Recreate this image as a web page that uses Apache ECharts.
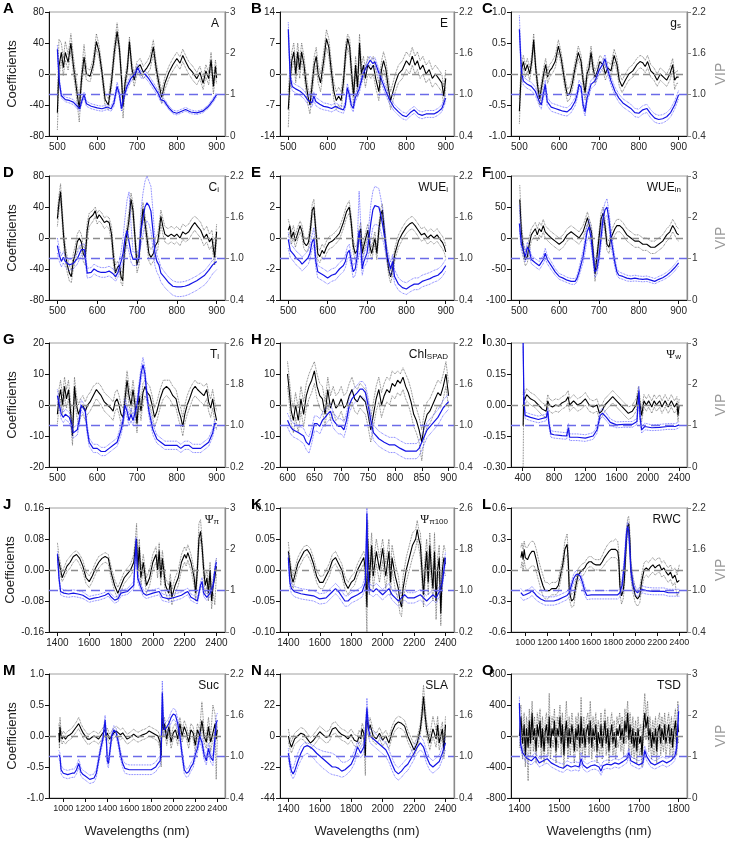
<!DOCTYPE html>
<html><head><meta charset="utf-8">
<script src="https://cdn.jsdelivr.net/npm/echarts@6/dist/echarts.min.js"></script>
<style>html,body{margin:0;padding:0;background:#fff}#c{width:729px;height:841px}</style>
</head><body><div id="c"></div>
<script>
// ---------- tick labels ----------
const xt500=[500,600,700,800,900];
const xtH=[600,650,700,750,800,850,900];
const xtI=[400,800,1200,1600,2000,2400];
const xt1400=[1400,1600,1800,2000,2200,2400];
const xt1000=[1000,1200,1400,1600,1800,2000,2200,2400];
const xtO=[1400,1500,1600,1700,1800];
const yt80=[-80,-40,0,40,80], yt14=[-14,-7,0,7,14], yt1=[-1,-0.5,0,0.5,1], yt4=[-4,-2,0,2,4];
const yt100=[-100,-50,0,50,100], yt20=[-20,-10,0,10,20], yt03=[-0.3,-0.15,0,0.15,0.3];
const yt016=[-0.16,-0.08,0,0.08,0.16], yt01=[-0.1,-0.05,0,0.05,0.1], yt06=[-0.6,-0.3,0,0.3,0.6];
const yt44=[-44,-22,0,22,44], yt800=[-800,-400,0,400,800];
const v03=[0,1,2,3], v22=[0.4,1.0,1.6,2.2], v26=[0.2,1.0,1.8,2.6];

// ---------- data: [wavelength, value, lower bound, upper bound] ----------
const A_coef=[[500,-50,-72,-30],[504,10,-5,45],[510,28,18,40],[515,8,-2,20],[520,28,18,42],[527,15,5,25],[534,40,30,52],[540,12,2,24],[547,-15,-25,-5],[555,-45,-62,-32],[561,-5,-15,5],[567,22,12,38],[573,0,-8,8],[582,-3,-10,5],[590,12,5,20],[598,42,32,52],[605,28,20,36],[612,2,-6,10],[620,-33,-42,-25],[628,-40,-46,-32],[636,-10,-18,0],[643,28,18,38],[650,55,46,66],[656,32,24,40],[661,-5,-12,5],[665,-42,-57,-32],[670,-12,-20,-4],[676,8,0,16],[681,42,34,48],[687,8,0,16],[693,-8,-16,0],[700,8,0,16],[708,12,4,20],[716,2,-6,10],[725,8,0,16],[733,15,6,24],[741,35,26,44],[748,8,0,16],[756,-15,-23,-7],[762,-30,-38,-22],[770,-12,-20,-4],[780,2,-6,10],[790,12,4,20],[800,20,12,28],[808,14,6,22],[815,24,16,32],[822,16,8,24],[830,8,0,16],[840,2,-8,10],[850,-6,-14,2],[858,2,-6,10],[866,-12,-20,-4],[873,4,-4,12],[880,-6,-14,2],[886,18,8,28],[892,-16,-26,-8],[897,10,0,18],[900,-5,-12,5]];
const A_vip=[[500,2.1,2.0,2.2],[505,1.3,1.22,1.4],[510,0.98,0.92,1.04],[520,0.88,0.83,0.94],[530,0.86,0.8,0.92],[540,0.82,0.76,0.88],[550,0.72,0.66,0.78],[556,0.66,0.6,0.72],[562,0.86,0.8,0.92],[567,1.0,0.92,1.06],[573,0.78,0.72,0.84],[585,0.72,0.66,0.78],[600,0.68,0.62,0.74],[612,0.66,0.6,0.72],[625,0.7,0.64,0.76],[635,0.66,0.6,0.72],[642,0.8,0.72,0.88],[650,1.2,1.1,1.3],[656,1.0,0.92,1.08],[661,0.66,0.6,0.72],[667,0.95,0.88,1.02],[675,1.2,1.12,1.28],[685,1.4,1.32,1.48],[695,1.5,1.42,1.58],[702,1.65,1.57,1.73],[710,1.48,1.4,1.56],[720,1.5,1.42,1.58],[730,1.38,1.3,1.46],[742,1.2,1.12,1.28],[752,1.05,0.98,1.12],[760,0.88,0.82,0.94],[768,0.85,0.8,0.9],[780,0.68,0.64,0.73],[790,0.58,0.54,0.63],[800,0.55,0.51,0.6],[812,0.6,0.56,0.65],[822,0.64,0.6,0.69],[835,0.58,0.54,0.63],[850,0.56,0.52,0.6],[865,0.6,0.56,0.64],[878,0.7,0.66,0.74],[890,0.85,0.8,0.9],[900,1.0,0.95,1.05]];
const B_coef=[[500,-8,-12,-4],[504,-2,-4,1],[509,3,1,5],[514,5,3,7],[519,0,-2,2],[524,5,3,7],[529,1,-1,3],[534,5,3,7],[540,2,0,4],[545,-2,-4,0],[550,-5,-7,-3],[555,-7,-9,-5],[560,-3,-5,-1],[566,2,0,4],[571,4,2,6],[576,0,-2,2],[582,-2,-4,0],[590,3,1,5],[597,8,6,10],[603,6,4,8],[609,1,-1,3],[616,-4,-6,-2],[622,-6,-8,-4],[628,-5,-7,-3],[634,-6,-8,-4],[640,-2,-4,0],[646,5,3,7],[651,8,6,9],[656,6,4,8],[661,0,-2,2],[666,-5,-7,-3],[671,2,0,4],[676,-3,-5,-1],[681,7,5,9],[686,0,-2,2],[691,2,0,4],[696,-1,-3,1],[702,2,0,4],[710,1,-1,3],[716,2,0,4],[722,-1,-3,1],[730,-4,-6,-2],[737,1,-1,3],[742,3,1,5],[748,1,-1,3],[754,-3,-5,-1],[760,-6,-8,-4],[766,-4,-6,-2],[772,-2,-4,0],[780,0,-2,2],[790,1,-1,3],[800,3,1,5],[808,2,0,4],[815,4,2,6],[822,2,0,4],[828,3,1,5],[835,1,-1,3],[842,2,0,4],[850,0,-2,2],[858,1,-1,3],[866,-1,-3,1],[874,0,-2,2],[882,-1,-3,1],[890,-2,-4,0],[895,-5,-7,-3],[900,-1,-3,1]];
const B_vip=[[500,1.95,1.85,2.05],[505,1.25,1.18,1.32],[510,1.12,1.06,1.18],[520,1.08,1.02,1.14],[530,1.05,0.99,1.11],[540,1.0,0.94,1.06],[550,0.92,0.86,0.98],[560,0.88,0.82,0.94],[565,0.98,0.92,1.04],[570,0.9,0.84,0.96],[580,0.86,0.8,0.92],[590,0.83,0.78,0.88],[600,0.82,0.77,0.87],[610,0.8,0.75,0.85],[620,0.83,0.78,0.88],[630,0.8,0.75,0.85],[640,0.78,0.73,0.83],[645,0.85,0.8,0.9],[650,1.1,1.04,1.16],[655,1.0,0.94,1.06],[660,0.85,0.8,0.9],[665,0.8,0.75,0.85],[670,0.95,0.89,1.01],[680,1.08,1.02,1.14],[690,1.3,1.24,1.36],[700,1.42,1.36,1.48],[708,1.5,1.44,1.56],[715,1.45,1.39,1.51],[720,1.48,1.42,1.54],[728,1.35,1.29,1.41],[738,1.2,1.14,1.26],[748,1.05,0.99,1.11],[758,0.92,0.86,0.98],[768,0.82,0.77,0.87],[780,0.75,0.7,0.8],[790,0.7,0.65,0.75],[800,0.68,0.63,0.73],[810,0.74,0.69,0.79],[820,0.78,0.73,0.83],[830,0.72,0.67,0.77],[840,0.7,0.65,0.75],[850,0.72,0.67,0.77],[860,0.72,0.67,0.77],[870,0.72,0.67,0.77],[880,0.75,0.7,0.8],[890,0.8,0.75,0.85],[900,0.95,0.9,1.0]];
const C_coef=[[500,-0.6,-0.8,-0.4],[505,0.05,-0.05,0.15],[510,0.2,0.1,0.3],[515,0.05,-0.05,0.15],[520,0.15,0.05,0.25],[526,0.0,-0.1,0.1],[531,0.2,0.1,0.3],[536,0.55,0.45,0.65],[541,0.1,0.0,0.2],[546,-0.2,-0.3,-0.1],[551,-0.4,-0.5,-0.3],[556,-0.2,-0.3,-0.1],[561,0.0,-0.1,0.1],[566,0.15,0.05,0.25],[571,-0.05,-0.15,0.05],[576,0.05,-0.05,0.15],[582,0.1,0.0,0.2],[590,0.2,0.1,0.3],[598,0.45,0.35,0.55],[605,0.25,0.15,0.35],[611,0.0,-0.1,0.1],[616,-0.2,-0.3,-0.1],[621,-0.35,-0.45,-0.25],[627,-0.3,-0.4,-0.2],[633,-0.15,-0.25,-0.05],[640,0.1,0.0,0.2],[648,0.35,0.25,0.45],[655,0.2,0.1,0.3],[660,-0.1,-0.2,0.0],[665,-0.3,-0.42,-0.2],[670,0.0,-0.1,0.1],[675,0.1,0.0,0.2],[680,0.35,0.25,0.45],[685,0.1,0.0,0.2],[690,-0.05,-0.15,0.05],[696,0.05,-0.05,0.15],[702,0.2,0.1,0.3],[710,0.15,0.05,0.25],[716,0.0,-0.1,0.1],[722,0.1,0.0,0.2],[730,0.05,-0.05,0.15],[738,0.3,0.2,0.4],[745,0.15,0.05,0.25],[751,-0.1,-0.2,0.0],[758,-0.2,-0.3,-0.1],[766,-0.1,-0.2,0.0],[775,0.0,-0.1,0.1],[785,0.05,-0.05,0.15],[795,0.15,0.05,0.25],[803,0.2,0.1,0.3],[810,0.18,0.08,0.28],[816,0.12,0.02,0.22],[822,0.2,0.1,0.3],[830,0.05,-0.05,0.15],[838,0.0,-0.1,0.1],[846,-0.1,-0.2,0.0],[854,0.0,-0.1,0.1],[862,-0.05,-0.15,0.05],[870,-0.1,-0.2,0.0],[878,0.0,-0.1,0.1],[885,0.15,0.05,0.25],[890,-0.1,-0.25,0.0],[895,-0.05,-0.15,0.05],[900,-0.05,-0.15,0.05]];
const C_vip=[[500,1.95,1.85,2.15],[505,1.35,1.28,1.42],[510,1.2,1.14,1.26],[520,1.15,1.09,1.21],[530,1.12,1.06,1.18],[540,1.05,0.99,1.11],[550,0.9,0.84,0.96],[555,0.85,0.79,0.91],[560,1.0,0.94,1.06],[565,1.15,1.09,1.21],[570,0.9,0.84,0.96],[580,0.82,0.76,0.88],[590,0.8,0.74,0.86],[600,0.78,0.72,0.84],[610,0.76,0.7,0.82],[620,0.75,0.69,0.81],[630,0.8,0.74,0.86],[640,0.9,0.84,0.96],[645,1.0,0.94,1.06],[650,1.15,1.09,1.21],[655,1.1,1.04,1.16],[660,0.85,0.79,0.91],[665,0.75,0.69,0.81],[670,0.95,0.89,1.01],[680,1.15,1.09,1.21],[690,1.2,1.14,1.26],[700,1.35,1.29,1.41],[710,1.45,1.39,1.51],[715,1.52,1.46,1.58],[720,1.4,1.34,1.46],[730,1.2,1.14,1.26],[740,1.05,0.99,1.11],[750,0.95,0.89,1.01],[760,0.88,0.82,0.94],[770,0.84,0.78,0.9],[780,0.8,0.74,0.86],[790,0.74,0.68,0.8],[800,0.73,0.67,0.79],[810,0.78,0.72,0.84],[820,0.8,0.74,0.86],[830,0.72,0.66,0.78],[840,0.66,0.6,0.72],[850,0.64,0.58,0.7],[860,0.65,0.59,0.71],[870,0.68,0.62,0.74],[880,0.74,0.68,0.8],[890,0.85,0.79,0.91],[900,1.0,0.94,1.06]];
const D_coef=[[500,25,15,35],[504,45,35,55],[508,60,50,70],[512,30,20,40],[516,0,-10,10],[520,-20,-30,-10],[525,-35,-45,-25],[530,-45,-55,-35],[535,-50,-58,-42],[540,-30,-40,-20],[545,-20,-30,-10],[550,-5,-15,5],[555,0,-10,10],[560,-5,-15,5],[565,-20,-30,-10],[570,-25,-35,-15],[575,10,0,20],[580,25,15,32],[590,30,22,36],[595,35,28,40],[600,25,18,32],[605,30,22,36],[612,25,18,32],[618,20,12,26],[624,22,15,28],[630,20,12,26],[636,5,-5,15],[641,-25,-35,-15],[646,-45,-52,-35],[651,-38,-46,-30],[656,-35,-42,-28],[660,-50,-58,-42],[664,-55,-62,-45],[668,-20,-30,-10],[673,0,-10,10],[679,20,10,30],[685,50,42,58],[690,35,25,45],[695,0,-10,10],[700,-35,-45,-25],[705,-25,-35,-15],[710,10,0,20],[715,38,28,46],[720,20,10,30],[725,0,-10,10],[730,-20,-30,-10],[735,-25,-35,-15],[741,-20,-30,-10],[746,-10,-20,0],[752,-5,-15,5],[756,10,0,20],[760,28,18,36],[765,15,5,25],[770,5,-5,15],[778,2,-8,12],[786,5,-5,15],[794,2,-8,12],[800,5,-5,15],[808,0,-10,10],[815,8,-2,18],[822,5,-5,15],[830,8,-2,18],[838,15,5,25],[845,20,10,28],[852,15,5,25],[860,10,0,20],[868,0,-10,10],[875,5,-5,15],[882,-5,-15,5],[888,0,-10,10],[895,-25,-35,-15],[900,8,-2,18]];
const D_vip=[[500,1.19,1.08,1.3],[505,1.05,0.96,1.14],[510,0.96,0.88,1.04],[515,1.02,0.94,1.1],[520,0.96,0.88,1.04],[530,0.91,0.83,0.99],[540,0.93,0.85,1.01],[550,1.0,0.92,1.08],[560,1.13,1.05,1.21],[568,1.13,1.05,1.21],[575,0.79,0.72,0.86],[585,0.8,0.73,0.87],[592,0.85,0.78,0.92],[600,0.82,0.75,0.89],[610,0.8,0.73,0.87],[620,0.8,0.73,0.87],[630,0.82,0.75,0.89],[640,0.78,0.71,0.85],[646,0.74,0.67,0.81],[652,0.8,0.73,0.87],[660,0.96,0.86,1.1],[665,1.08,0.96,1.3],[670,1.3,1.12,1.6],[675,1.41,1.2,1.85],[680,1.42,1.1,1.97],[685,1.08,0.95,1.5],[690,0.99,0.9,1.1],[700,0.99,0.9,1.08],[705,1.02,0.92,1.15],[710,1.41,1.2,1.7],[715,1.58,1.35,1.95],[720,1.75,1.5,2.12],[725,1.81,1.55,2.2],[730,1.77,1.5,2.2],[735,1.69,1.4,2.05],[740,1.41,1.15,1.7],[745,1.08,0.9,1.3],[750,0.96,0.8,1.05],[755,0.91,0.75,0.98],[760,0.79,0.66,0.88],[770,0.72,0.58,0.8],[780,0.65,0.52,0.73],[790,0.6,0.47,0.68],[800,0.59,0.45,0.66],[810,0.59,0.45,0.66],[820,0.6,0.46,0.67],[830,0.62,0.48,0.69],[840,0.65,0.51,0.72],[850,0.68,0.54,0.75],[860,0.72,0.58,0.79],[870,0.76,0.62,0.83],[880,0.83,0.69,0.9],[890,0.91,0.78,0.98],[900,0.96,0.84,1.03]];
const E_coef=[[500,0.5,0.1,1.2],[504,0.8,0.4,1.3],[508,0.0,-0.4,0.4],[513,0.4,0.0,0.8],[518,-0.2,-0.6,0.2],[524,0.3,-0.1,0.7],[530,0.8,0.4,1.1],[535,0.4,0.0,0.8],[540,-0.3,-0.7,0.1],[546,-0.5,-0.9,-0.1],[551,-0.3,-0.7,0.1],[556,0.5,0.1,0.9],[561,1.8,1.4,2.2],[565,2.0,1.6,2.5],[570,0.5,0.1,0.9],[575,-1.0,-1.4,-0.6],[580,-1.2,-1.6,-0.8],[586,-0.8,-1.2,-0.4],[591,-1.0,-1.4,-0.6],[597,-0.6,-1.0,-0.2],[604,-0.3,-0.7,0.1],[612,-0.2,-0.6,0.2],[620,0.0,-0.4,0.4],[630,0.3,-0.1,0.7],[640,1.0,0.6,1.4],[648,1.7,1.3,2.1],[655,2.0,1.6,2.4],[660,1.0,0.6,1.4],[665,-0.5,-0.9,-0.1],[670,-1.0,-1.4,-0.6],[675,-0.8,-1.2,-0.4],[680,0.2,-0.2,0.6],[684,0.6,0.2,1.0],[688,-1.0,-1.4,-0.6],[692,-0.5,-0.9,-0.1],[697,0.0,-0.4,0.4],[702,0.5,0.1,0.9],[707,-0.5,-0.9,-0.1],[712,-1.0,-1.4,-0.6],[716,-0.5,-0.9,-0.1],[720,0.0,-0.4,0.4],[725,-1.0,-1.4,-0.6],[730,0.5,0.1,0.9],[735,1.5,1.1,1.9],[739,1.8,1.4,2.2],[744,0.5,0.1,0.9],[750,-1.0,-1.4,-0.6],[755,-2.0,-2.4,-1.6],[760,-2.5,-2.9,-2.1],[765,-2.0,-2.4,-1.6],[771,-1.0,-1.4,-0.6],[780,-0.2,-0.6,0.2],[790,0.3,-0.1,0.7],[800,0.7,0.3,1.1],[808,0.9,0.5,1.3],[815,1.0,0.6,1.4],[822,0.8,0.4,1.2],[830,0.5,0.1,0.9],[838,0.2,-0.2,0.6],[846,0.3,-0.1,0.7],[854,0.0,-0.4,0.4],[862,0.2,-0.2,0.6],[870,0.0,-0.4,0.4],[878,0.2,-0.2,0.6],[886,-0.1,-0.5,0.3],[892,-0.3,-0.7,0.1],[897,-0.6,-1.0,-0.2],[900,-0.9,-1.3,-0.5]];
const E_vip=[[500,1.28,1.15,1.38],[505,1.12,1.02,1.22],[510,1.1,1.0,1.2],[515,1.05,0.95,1.15],[520,1.01,0.91,1.11],[530,0.96,0.86,1.06],[535,0.92,0.82,1.02],[540,0.94,0.84,1.04],[550,1.01,0.91,1.11],[555,1.08,0.98,1.18],[560,1.23,1.13,1.33],[565,1.3,1.2,1.45],[570,0.96,0.86,1.06],[575,0.81,0.72,0.9],[580,0.81,0.72,0.9],[590,0.76,0.67,0.85],[600,0.72,0.63,0.81],[605,0.74,0.65,0.83],[610,0.76,0.67,0.85],[620,0.78,0.69,0.87],[630,0.85,0.76,0.94],[640,0.9,0.81,0.99],[645,0.96,0.87,1.05],[650,1.08,0.99,1.17],[655,1.12,1.03,1.21],[660,0.96,0.87,1.05],[665,0.81,0.72,0.9],[670,0.85,0.76,0.94],[675,1.03,0.9,1.2],[680,1.41,1.1,1.98],[684,1.19,1.0,1.5],[688,0.85,0.76,0.94],[692,0.96,0.87,1.05],[700,1.08,0.95,1.2],[705,1.3,1.1,1.5],[710,1.53,1.3,1.8],[715,1.71,1.45,1.98],[720,1.77,1.5,2.05],[725,1.77,1.5,2.07],[730,1.75,1.48,2.02],[735,1.64,1.4,1.88],[740,1.48,1.28,1.7],[745,1.3,1.15,1.45],[750,1.08,0.98,1.18],[755,0.96,0.86,1.06],[760,0.85,0.75,0.95],[765,0.96,0.86,1.06],[770,0.74,0.64,0.84],[780,0.63,0.54,0.72],[790,0.58,0.5,0.67],[800,0.56,0.48,0.65],[810,0.6,0.52,0.69],[820,0.63,0.55,0.72],[830,0.63,0.55,0.72],[840,0.67,0.59,0.76],[850,0.69,0.61,0.78],[860,0.71,0.63,0.8],[870,0.74,0.66,0.83],[880,0.76,0.68,0.85],[890,0.81,0.73,0.9],[900,0.9,0.82,0.99]];
const F_coef=[[501,62,45,85],[505,10,-5,25],[510,-20,-32,-8],[515,-35,-45,-22],[520,-30,-40,-18],[525,-10,-22,2],[530,5,-5,15],[535,10,0,20],[540,15,5,25],[545,5,-5,15],[550,15,5,25],[555,10,0,20],[560,20,10,30],[565,10,0,20],[572,5,-5,15],[580,0,-10,10],[590,-5,-15,5],[600,-10,-20,0],[610,-5,-15,5],[620,5,-5,15],[630,10,0,20],[640,5,-5,15],[650,0,-10,10],[660,10,0,20],[665,20,10,30],[671,33,22,42],[676,20,10,30],[681,10,0,20],[685,-20,-30,-10],[690,-58,-70,-45],[695,-30,-40,-20],[700,0,-10,10],[705,30,20,40],[710,40,30,50],[715,20,10,30],[720,-10,-20,0],[725,-15,-25,-5],[730,0,-10,10],[740,15,5,25],[745,20,10,30],[752,20,10,30],[760,15,5,25],[770,5,-5,15],[780,0,-10,10],[790,-5,-15,5],[800,-5,-15,5],[810,-10,-20,0],[820,-10,-20,0],[830,-15,-25,-5],[840,-15,-25,-5],[850,-10,-20,0],[860,-5,-15,5],[870,5,-5,15],[878,10,0,20],[885,20,10,30],[890,15,5,25],[895,8,-2,18],[900,5,-5,15]];
const F_vip=[[500,1.85,1.7,2.3],[505,1.35,1.2,1.5],[510,1.2,1.05,1.35],[515,1.05,0.92,1.18],[520,1.28,1.15,1.4],[525,1.2,1.08,1.32],[530,0.98,0.88,1.08],[540,0.9,0.8,1.0],[550,0.83,0.73,0.93],[560,0.98,0.88,1.08],[565,1.13,1.0,1.25],[570,0.98,0.88,1.08],[580,0.83,0.73,0.93],[590,0.68,0.6,0.76],[600,0.57,0.5,0.64],[610,0.53,0.46,0.6],[620,0.48,0.42,0.55],[630,0.45,0.38,0.52],[640,0.45,0.38,0.52],[645,0.53,0.45,0.6],[650,0.68,0.58,0.78],[660,1.05,0.9,1.2],[665,1.35,1.15,1.5],[670,1.65,1.45,1.8],[675,1.77,1.55,1.95],[680,1.5,1.3,1.7],[685,1.05,0.9,1.2],[690,0.68,0.55,0.8],[695,0.75,0.62,0.88],[700,1.05,0.9,1.2],[705,1.5,1.3,1.7],[710,1.95,1.75,2.15],[715,2.18,2.0,2.35],[720,2.25,2.05,2.45],[725,1.95,1.75,2.15],[730,1.5,1.3,1.7],[735,1.2,1.05,1.35],[740,0.9,0.78,1.02],[745,0.68,0.6,0.76],[750,0.6,0.53,0.68],[760,0.57,0.5,0.64],[770,0.53,0.46,0.6],[780,0.51,0.45,0.58],[790,0.53,0.46,0.6],[800,0.51,0.45,0.58],[810,0.5,0.44,0.57],[820,0.51,0.45,0.58],[830,0.48,0.42,0.55],[840,0.45,0.39,0.52],[850,0.5,0.44,0.57],[860,0.54,0.48,0.61],[870,0.6,0.53,0.67],[880,0.68,0.6,0.75],[890,0.78,0.7,0.86],[900,0.9,0.82,0.98]];
const G_coef=[[500,-3,-6,0],[504,2,-1,5],[508,5,2,8],[513,0,-3,3],[518,6,3,9],[523,2,-1,5],[528,5,2,8],[533,-2,-5,1],[538,-10,-13,-7],[543,6,3,9],[548,0,-3,3],[553,-3,-6,0],[558,-1,-4,2],[564,0,-3,3],[570,-2,-5,1],[576,0,-3,3],[582,1,-2,4],[590,3,0,6],[598,5,2,7],[604,4,1,7],[610,3,0,6],[618,1,-2,4],[626,0,-3,3],[634,-1,-4,2],[640,-2,-5,1],[645,1,-2,4],[650,2,-1,5],[655,0,-3,3],[660,-3,-6,0],[665,-4,-7,-1],[670,2,-1,5],[675,8,5,11],[680,3,0,6],[685,0,-3,3],[690,5,2,8],[695,0,-3,3],[700,-6,-9,-3],[705,3,0,6],[710,-2,-5,1],[715,4,1,7],[720,6,3,8],[726,4,1,7],[732,3,0,6],[738,0,-3,3],[744,-4,-7,-1],[750,-2,-5,1],[758,2,-1,5],[766,5,2,8],[774,6,3,8],[782,5,2,8],[790,3,0,6],[798,2,-1,5],[805,-2,-5,1],[810,-4,-7,-1],[815,-7,-10,-4],[820,-3,-6,0],[826,0,-3,3],[832,2,-1,5],[840,5,2,7],[846,6,3,8],[852,5,2,7],[860,4,1,7],[868,3,0,6],[875,5,2,7],[880,1,-2,4],[885,-1,-4,2],[890,2,-1,5],[895,-2,-5,1],[900,-5,-8,-2]];
const G_vip=[[500,1.58,1.45,1.7],[505,1.4,1.3,1.5],[510,1.22,1.12,1.32],[515,1.16,1.06,1.26],[520,1.22,1.12,1.32],[530,1.16,1.06,1.26],[535,1.04,0.94,1.14],[540,0.86,0.76,0.96],[545,0.86,0.76,0.96],[550,0.92,0.82,1.02],[555,1.1,1.0,1.2],[560,1.4,1.3,1.5],[565,1.4,1.3,1.5],[570,1.28,1.18,1.38],[575,0.92,0.82,1.02],[580,0.68,0.6,0.76],[590,0.56,0.48,0.64],[600,0.56,0.48,0.64],[610,0.5,0.42,0.58],[620,0.5,0.42,0.58],[630,0.56,0.48,0.64],[640,0.62,0.54,0.7],[650,0.68,0.6,0.76],[660,0.92,0.82,1.02],[665,1.1,1.0,1.2],[670,1.4,1.28,1.52],[675,1.28,1.16,1.4],[680,1.1,1.0,1.2],[685,1.22,1.1,1.34],[690,1.1,1.0,1.2],[700,1.4,1.28,1.52],[705,1.7,1.58,1.82],[710,2.0,1.88,2.12],[715,2.18,2.05,2.32],[720,2.0,1.88,2.12],[725,1.58,1.46,1.7],[730,1.28,1.18,1.38],[740,0.92,0.82,1.02],[750,0.74,0.66,0.82],[760,0.68,0.6,0.76],[770,0.62,0.54,0.7],[780,0.62,0.54,0.7],[790,0.62,0.54,0.7],[800,0.62,0.54,0.7],[810,0.56,0.48,0.64],[820,0.62,0.54,0.7],[830,0.62,0.54,0.7],[840,0.56,0.48,0.64],[850,0.56,0.48,0.64],[860,0.56,0.48,0.64],[870,0.62,0.54,0.7],[880,0.68,0.6,0.76],[890,0.86,0.78,0.94],[895,1.04,0.96,1.12],[900,1.04,0.96,1.12]];
const H_coef=[[600,10,6,14],[603,5,1,9],[607,-2,-6,2],[611,-5,-9,-1],[615,0,-4,4],[620,-5,-9,-1],[625,2,-2,6],[630,-3,-7,1],[635,3,-1,7],[640,6,2,10],[645,8,4,12],[650,11,7,14],[655,6,2,10],[660,3,-1,7],[665,2,-2,6],[670,-3,-7,1],[675,5,1,9],[680,-1,-5,3],[685,2,-2,6],[690,-1,-5,3],[695,0,-4,4],[700,2,-2,6],[705,-1,-5,3],[710,0,-4,4],[715,3,-1,7],[720,5,1,9],[725,2,-2,6],[730,1,-3,5],[735,3,-1,7],[740,2,-2,6],[745,1,-3,5],[750,-3,-7,1],[755,-8,-12,-4],[760,-3,-7,1],[765,2,-2,6],[770,5,1,9],[775,0,-4,4],[780,3,-1,7],[785,5,1,9],[790,4,0,8],[795,7,3,11],[800,6,2,10],[805,8,4,11],[810,7,3,10],[815,9,5,12],[820,6,2,10],[825,4,0,8],[830,1,-3,5],[835,-3,-7,1],[840,-5,-9,-1],[845,-8,-12,-4],[850,-12,-18,-8],[855,-6,-10,-2],[860,-3,-7,1],[865,-2,-6,2],[870,0,-4,4],[875,2,-2,6],[880,4,0,8],[885,3,-1,7],[890,6,2,10],[895,10,6,14],[900,3,-1,7]];
const H_vip=[[600,1.08,0.98,1.18],[605,0.99,0.89,1.09],[610,0.94,0.84,1.04],[620,0.9,0.8,1.0],[630,0.85,0.74,0.96],[635,0.76,0.65,0.87],[640,0.72,0.6,0.84],[645,0.85,0.74,0.96],[650,1.03,0.92,1.14],[655,1.03,0.92,1.14],[660,0.99,0.88,1.1],[665,1.08,0.97,1.19],[670,1.12,1.01,1.23],[675,1.17,1.06,1.28],[680,1.21,1.1,1.32],[685,1.08,0.97,1.19],[690,1.03,0.92,1.14],[695,0.99,0.88,1.1],[700,0.99,0.88,1.1],[705,0.94,0.83,1.05],[710,1.08,0.97,1.19],[715,1.3,1.19,1.41],[720,1.39,1.28,1.5],[725,1.44,1.33,1.55],[730,1.48,1.37,1.59],[735,1.53,1.42,1.64],[740,1.53,1.42,1.64],[745,1.48,1.37,1.59],[750,1.3,1.19,1.41],[755,1.08,0.97,1.19],[760,0.9,0.79,1.01],[770,0.81,0.7,0.92],[780,0.76,0.65,0.87],[790,0.72,0.61,0.83],[800,0.72,0.61,0.83],[810,0.67,0.56,0.78],[820,0.63,0.52,0.74],[830,0.63,0.52,0.74],[840,0.63,0.52,0.74],[845,0.67,0.56,0.78],[850,0.76,0.65,0.87],[855,0.85,0.74,0.96],[860,0.94,0.83,1.05],[870,1.03,0.92,1.14],[880,1.12,1.01,1.23],[890,1.26,1.15,1.37],[900,1.35,1.24,1.46]];
const I_coef=[[405,-0.1,-0.3,0.05],[412,0.04,0.0,0.08],[420,0.02,-0.01,0.05],[450,0.05,0.02,0.08],[500,0.03,0.0,0.06],[550,0.02,-0.01,0.05],[600,0.0,-0.03,0.03],[650,-0.02,-0.05,0.01],[700,-0.03,-0.06,0.0],[720,0.02,-0.01,0.05],[740,0.0,-0.03,0.03],[780,-0.01,-0.04,0.02],[820,0.0,-0.03,0.03],[860,-0.005,-0.035,0.025],[900,0.01,-0.02,0.04],[950,0.02,-0.01,0.05],[980,0.04,0.01,0.07],[1000,0.0,-0.03,0.03],[1050,0.02,-0.01,0.05],[1100,0.0,-0.03,0.03],[1150,0.01,-0.02,0.04],[1200,0.03,0.0,0.06],[1250,0.0,-0.03,0.03],[1300,-0.01,-0.04,0.02],[1350,0.0,-0.03,0.03],[1380,-0.04,-0.07,-0.01],[1410,-0.03,-0.06,0.0],[1450,0.0,-0.03,0.03],[1500,0.02,-0.01,0.05],[1550,0.04,0.01,0.07],[1600,0.02,-0.01,0.05],[1650,0.0,-0.03,0.03],[1700,-0.02,-0.05,0.01],[1750,-0.04,-0.07,-0.01],[1800,-0.03,-0.06,0.0],[1850,0.0,-0.03,0.03],[1880,0.06,0.03,0.09],[1900,0.0,-0.03,0.03],[1920,-0.05,-0.08,-0.02],[1950,0.02,-0.01,0.05],[1980,0.0,-0.03,0.03],[2010,0.02,-0.01,0.05],[2050,-0.01,-0.04,0.02],[2080,0.02,-0.01,0.05],[2110,0.0,-0.03,0.03],[2150,0.02,-0.01,0.05],[2180,-0.01,-0.04,0.02],[2220,0.02,-0.01,0.05],[2260,-0.01,-0.04,0.02],[2300,0.02,-0.01,0.05],[2340,-0.01,-0.04,0.02],[2370,0.01,-0.02,0.04],[2385,-0.05,-0.08,-0.02],[2400,0.0,-0.03,0.03]];
const I_vip=[[405,3.0,2.9,3.0],[415,1.6,1.5,1.7],[430,1.25,1.17,1.33],[500,1.2,1.12,1.28],[600,1.15,1.07,1.23],[700,1.2,1.12,1.28],[720,1.35,1.27,1.43],[735,1.05,0.97,1.13],[760,0.8,0.72,0.88],[800,0.78,0.7,0.86],[900,0.76,0.68,0.84],[960,0.75,0.67,0.83],[985,0.95,0.85,1.05],[1000,0.72,0.64,0.8],[1100,0.72,0.64,0.8],[1200,0.7,0.62,0.78],[1300,0.75,0.67,0.83],[1350,0.9,0.82,0.98],[1390,1.25,1.17,1.38],[1420,1.3,1.22,1.42],[1470,1.2,1.12,1.3],[1520,1.08,1.0,1.16],[1600,1.02,0.95,1.09],[1700,1.03,0.96,1.1],[1800,1.03,0.96,1.1],[1860,1.1,1.03,1.17],[1885,1.85,1.7,1.95],[1900,1.2,1.1,1.3],[1920,0.9,0.82,0.98],[1960,0.98,0.9,1.06],[2050,0.95,0.88,1.02],[2150,0.96,0.89,1.03],[2250,0.98,0.91,1.05],[2350,0.98,0.91,1.05],[2400,1.02,0.95,1.09]];
const J_coef=[[1400,0.04,0.025,0.07],[1410,0.02,0.005,0.035],[1420,0.0,-0.015,0.015],[1430,-0.02,-0.03,-0.005],[1440,-0.01,-0.025,0.005],[1460,0.01,-0.005,0.025],[1480,0.02,0.005,0.035],[1500,0.035,0.02,0.045],[1520,0.04,0.028,0.05],[1540,0.03,0.015,0.04],[1560,0.01,-0.005,0.025],[1580,-0.02,-0.035,-0.005],[1600,-0.03,-0.045,-0.015],[1620,-0.015,-0.03,0.0],[1640,0.005,-0.01,0.02],[1660,0.02,0.005,0.035],[1680,0.03,0.015,0.04],[1700,0.035,0.02,0.045],[1720,0.03,0.015,0.04],[1740,-0.01,-0.025,0.005],[1760,-0.04,-0.055,-0.025],[1780,-0.06,-0.075,-0.045],[1800,-0.04,-0.055,-0.025],[1820,-0.02,-0.035,-0.005],[1840,-0.01,-0.025,0.005],[1860,0.0,-0.015,0.015],[1880,0.02,0.0,0.04],[1890,0.06,0.04,0.08],[1898,0.08,0.06,0.12],[1905,0.0,-0.02,0.02],[1915,0.06,0.04,0.08],[1925,-0.02,-0.04,0.0],[1940,0.02,0.0,0.04],[1960,-0.04,-0.06,-0.02],[1980,-0.02,-0.04,0.0],[2000,0.02,0.0,0.04],[2020,0.04,0.02,0.06],[2030,0.0,-0.02,0.02],[2040,0.05,0.03,0.07],[2050,-0.02,-0.04,0.0],[2060,0.03,0.01,0.05],[2080,-0.04,-0.06,-0.02],[2100,-0.06,-0.08,-0.04],[2110,-0.03,-0.05,-0.01],[2120,-0.07,-0.09,-0.05],[2140,-0.04,-0.06,-0.02],[2160,-0.02,-0.04,0.0],[2180,0.02,0.0,0.04],[2200,0.04,0.02,0.06],[2210,0.03,0.01,0.05],[2220,0.045,0.025,0.065],[2240,0.02,0.0,0.04],[2260,-0.02,-0.04,0.0],[2270,-0.06,-0.08,-0.04],[2280,0.0,-0.02,0.02],[2290,0.08,0.06,0.12],[2300,0.1,0.08,0.13],[2310,0.06,0.04,0.08],[2320,0.0,-0.02,0.02],[2330,-0.04,-0.06,-0.02],[2340,-0.02,-0.04,0.0],[2350,-0.06,-0.08,-0.04],[2360,0.0,-0.02,0.02],[2370,-0.08,-0.1,-0.06],[2380,-0.04,-0.06,-0.02],[2390,-0.02,-0.09,0.0],[2400,0.01,-0.01,0.03]];
const J_vip=[[1400,1.88,1.8,1.95],[1410,1.3,1.22,1.38],[1420,0.98,0.9,1.06],[1440,0.94,0.86,1.02],[1470,0.92,0.84,1.0],[1500,0.94,0.86,1.02],[1530,0.92,0.84,1.0],[1560,0.89,0.81,0.97],[1600,0.79,0.72,0.86],[1630,0.82,0.75,0.89],[1660,0.84,0.77,0.91],[1700,0.89,0.82,0.96],[1720,0.94,0.87,1.01],[1740,0.84,0.77,0.91],[1760,0.77,0.7,0.84],[1780,0.8,0.73,0.87],[1800,0.94,0.87,1.01],[1840,0.98,0.91,1.05],[1880,1.13,1.05,1.22],[1895,2.24,2.1,2.3],[1905,1.31,1.2,1.42],[1920,1.13,1.05,1.21],[1940,0.94,0.86,1.02],[1960,0.89,0.81,0.97],[2000,0.94,0.86,1.02],[2040,0.98,0.9,1.06],[2060,0.84,0.76,0.92],[2100,0.8,0.72,0.88],[2140,0.84,0.76,0.92],[2180,0.89,0.81,0.97],[2200,0.94,0.86,1.02],[2220,0.98,0.9,1.06],[2240,0.84,0.76,0.92],[2260,0.8,0.72,0.88],[2280,0.75,0.68,0.82],[2300,1.13,1.05,1.21],[2310,1.22,1.12,1.32],[2320,0.94,0.86,1.02],[2340,0.84,0.76,0.92],[2360,0.94,0.86,1.02],[2380,1.13,1.05,1.21],[2390,1.5,1.4,1.6],[2400,1.69,1.6,1.78]];
const K_coef=[[1400,0.03,0.02,0.045],[1410,0.01,0.0,0.02],[1420,-0.01,-0.02,0.0],[1430,-0.02,-0.03,-0.01],[1440,-0.01,-0.02,0.0],[1460,0.01,0.0,0.02],[1480,0.02,0.01,0.03],[1500,0.03,0.02,0.038],[1520,0.033,0.025,0.04],[1540,0.025,0.015,0.035],[1560,0.01,0.0,0.02],[1580,-0.01,-0.02,0.0],[1600,-0.02,-0.03,-0.01],[1620,-0.02,-0.03,-0.01],[1640,-0.01,-0.02,0.0],[1660,0.0,-0.01,0.01],[1680,0.015,0.005,0.025],[1700,0.02,0.01,0.03],[1720,0.01,0.0,0.02],[1740,0.0,-0.01,0.01],[1760,-0.02,-0.03,-0.01],[1780,-0.03,-0.04,-0.02],[1800,-0.02,-0.03,-0.01],[1820,-0.015,-0.025,-0.005],[1840,0.0,-0.01,0.01],[1860,0.01,0.0,0.02],[1880,0.02,0.01,0.03],[1890,0.0,-0.02,0.02],[1900,-0.06,-0.1,-0.04],[1905,0.05,0.03,0.08],[1915,-0.02,-0.04,0.0],[1930,0.04,0.02,0.06],[1940,-0.01,-0.03,0.01],[1960,0.03,0.01,0.05],[1980,0.0,-0.02,0.02],[2000,0.035,0.015,0.05],[2020,-0.01,-0.03,0.01],[2040,0.03,0.01,0.05],[2050,-0.02,-0.04,0.0],[2060,0.02,0.0,0.04],[2080,-0.01,-0.03,0.01],[2100,-0.03,-0.05,-0.01],[2110,-0.05,-0.07,-0.03],[2120,-0.06,-0.075,-0.045],[2130,-0.03,-0.05,-0.01],[2150,0.0,-0.02,0.02],[2170,0.02,0.0,0.04],[2190,0.04,0.02,0.06],[2210,0.05,0.035,0.065],[2220,0.065,0.05,0.08],[2230,0.05,0.035,0.065],[2240,0.04,0.02,0.06],[2250,0.0,-0.02,0.02],[2260,-0.04,-0.06,-0.02],[2270,0.0,-0.02,0.02],[2280,0.03,0.01,0.05],[2290,-0.02,-0.04,0.0],[2300,0.04,0.02,0.06],[2310,0.0,-0.02,0.02],[2320,-0.03,-0.05,-0.01],[2330,0.03,0.01,0.06],[2340,-0.05,-0.08,-0.03],[2350,0.0,-0.02,0.02],[2360,0.02,0.0,0.04],[2370,-0.07,-0.09,-0.05],[2380,0.0,-0.02,0.02],[2390,0.02,0.0,0.04],[2400,0.01,-0.01,0.03]];
const K_vip=[[1400,1.64,1.55,1.72],[1410,1.16,1.06,1.26],[1420,1.04,0.94,1.14],[1440,0.98,0.88,1.08],[1480,0.94,0.84,1.04],[1520,0.92,0.82,1.02],[1560,0.9,0.8,1.0],[1600,0.84,0.74,0.94],[1640,0.86,0.76,0.96],[1680,0.98,0.88,1.08],[1700,1.04,0.94,1.14],[1720,0.98,0.88,1.08],[1760,0.8,0.7,0.9],[1780,0.8,0.7,0.9],[1800,0.86,0.76,0.96],[1840,0.92,0.82,1.02],[1870,0.98,0.88,1.08],[1890,1.16,1.06,1.3],[1900,2.5,2.3,2.6],[1905,1.4,1.2,1.6],[1915,1.04,0.94,1.14],[1940,0.98,0.88,1.08],[1960,1.04,0.94,1.14],[2000,0.92,0.82,1.02],[2040,1.04,0.94,1.14],[2060,0.92,0.82,1.02],[2080,0.86,0.76,0.96],[2100,0.8,0.7,0.9],[2120,0.86,0.76,0.96],[2140,0.92,0.82,1.02],[2160,0.86,0.76,0.96],[2200,0.86,0.76,0.96],[2240,0.92,0.82,1.02],[2260,0.86,0.76,0.96],[2280,0.8,0.7,0.9],[2300,0.86,0.76,0.96],[2320,0.92,0.82,1.02],[2340,0.86,0.76,0.96],[2360,0.98,0.88,1.08],[2380,1.16,1.06,1.26],[2400,1.64,1.55,1.75]];
const L_coef=[[960,0.12,0.02,0.22],[970,0.18,0.08,0.26],[980,0.1,0.0,0.2],[990,0.2,0.1,0.28],[1000,0.12,0.02,0.22],[1020,0.1,0.0,0.22],[1040,0.15,0.02,0.26],[1060,0.18,0.04,0.28],[1080,0.18,0.04,0.27],[1100,0.1,-0.02,0.2],[1120,0.0,-0.1,0.1],[1140,-0.08,-0.18,0.02],[1160,-0.15,-0.25,-0.05],[1180,-0.2,-0.28,-0.12],[1200,-0.2,-0.28,-0.12],[1220,-0.2,-0.26,-0.14],[1240,-0.18,-0.24,-0.12],[1260,-0.18,-0.24,-0.12],[1280,-0.18,-0.24,-0.12],[1300,-0.15,-0.21,-0.09],[1320,-0.05,-0.11,0.01],[1340,0.05,-0.01,0.11],[1360,0.2,0.12,0.28],[1380,0.25,0.15,0.35],[1390,0.1,0.02,0.18],[1400,-0.2,-0.28,-0.12],[1420,-0.3,-0.36,-0.24],[1440,-0.28,-0.35,-0.22],[1460,-0.15,-0.21,-0.09],[1480,-0.05,-0.11,0.01],[1500,-0.02,-0.08,0.04],[1520,0.0,-0.06,0.06],[1540,0.02,-0.03,0.07],[1560,0.06,0.01,0.11],[1580,0.08,0.03,0.13],[1600,0.08,0.03,0.13],[1620,0.06,0.01,0.11],[1640,0.05,0.0,0.1],[1660,0.05,0.0,0.1],[1680,0.05,0.0,0.1],[1700,0.08,0.02,0.14],[1720,0.12,0.05,0.19],[1740,0.15,0.08,0.23],[1760,0.18,0.1,0.26],[1780,0.2,0.12,0.28],[1800,0.2,0.12,0.28],[1820,0.2,0.12,0.3],[1840,0.18,0.1,0.28],[1850,0.1,0.02,0.18],[1860,-0.15,-0.23,-0.07],[1875,-0.25,-0.33,-0.17],[1890,-0.2,-0.28,-0.12],[1900,-0.1,-0.18,-0.02],[1910,0.1,0.02,0.18],[1920,0.3,0.22,0.38],[1930,0.42,0.36,0.5],[1940,0.45,0.38,0.52],[1950,0.3,0.22,0.38],[1960,0.0,-0.08,0.08],[1980,-0.15,-0.23,-0.07],[2000,-0.25,-0.32,-0.18],[2020,-0.28,-0.35,-0.21],[2040,-0.25,-0.32,-0.18],[2060,-0.1,-0.17,-0.03],[2080,0.0,-0.07,0.07],[2100,0.02,-0.05,0.09],[2120,0.0,-0.07,0.07],[2140,0.03,-0.04,0.1],[2160,0.05,-0.02,0.12],[2180,0.02,-0.05,0.09],[2200,0.04,-0.03,0.11],[2220,0.05,-0.02,0.12],[2240,0.0,-0.07,0.07],[2260,0.02,-0.05,0.09],[2280,-0.02,-0.09,0.05],[2300,-0.05,-0.12,0.02],[2320,-0.02,-0.09,0.05],[2340,-0.08,-0.15,-0.01],[2360,-0.05,-0.12,0.02],[2380,-0.12,-0.25,-0.05],[2400,-0.1,-0.2,0.05]];
const L_vip=[[960,0.97,0.9,1.03],[980,0.93,0.86,0.99],[1000,0.94,0.87,1.0],[1040,0.97,0.9,1.03],[1060,1.0,0.93,1.06],[1080,0.97,0.9,1.03],[1100,0.93,0.86,0.99],[1140,0.88,0.82,0.94],[1180,0.85,0.79,0.91],[1220,0.85,0.79,0.91],[1260,0.85,0.79,0.91],[1300,0.87,0.81,0.93],[1340,0.9,0.84,0.96],[1380,0.93,0.87,0.99],[1400,0.97,0.91,1.03],[1420,1.08,1.02,1.14],[1440,1.18,1.12,1.24],[1460,1.23,1.17,1.29],[1480,1.24,1.18,1.3],[1500,1.21,1.15,1.27],[1520,1.12,1.06,1.18],[1540,1.0,0.94,1.06],[1560,0.93,0.87,0.99],[1600,0.94,0.88,1.0],[1700,0.94,0.88,1.0],[1800,0.94,0.88,1.0],[1840,0.94,0.88,1.0],[1860,0.97,0.91,1.03],[1880,1.08,1.0,1.16],[1900,1.38,1.28,1.48],[1920,1.83,1.72,1.92],[1930,1.93,1.84,2.0],[1940,1.87,1.78,1.95],[1950,1.6,1.5,1.7],[1960,1.3,1.2,1.4],[1980,1.08,1.0,1.16],[2000,1.0,0.94,1.06],[2020,0.97,0.92,1.02],[2040,1.0,0.95,1.05],[2060,1.02,0.97,1.07],[2100,1.0,0.95,1.05],[2160,0.99,0.94,1.04],[2200,0.99,0.94,1.04],[2260,0.99,0.94,1.04],[2300,0.97,0.92,1.02],[2340,0.97,0.92,1.02],[2380,0.97,0.92,1.02],[2400,0.97,0.92,1.02]];
const M_coef=[[960,0.05,-0.05,0.2],[965,-0.1,-0.2,0.0],[970,0.15,0.05,0.3],[980,0.0,-0.08,0.08],[990,-0.05,-0.13,0.03],[1000,0.0,-0.08,0.08],[1020,-0.05,-0.13,0.03],[1040,0.0,-0.08,0.08],[1060,0.02,-0.06,0.1],[1080,0.05,-0.03,0.13],[1100,0.1,0.02,0.18],[1120,0.15,0.07,0.23],[1140,0.2,0.12,0.3],[1150,0.18,0.1,0.26],[1160,0.12,0.04,0.2],[1180,0.05,-0.03,0.13],[1200,0.0,-0.08,0.08],[1220,-0.05,-0.13,0.03],[1240,-0.05,-0.13,0.03],[1260,-0.02,-0.1,0.06],[1280,0.0,-0.08,0.08],[1300,-0.02,-0.1,0.06],[1320,-0.05,-0.13,0.03],[1340,0.0,-0.08,0.08],[1360,0.05,-0.03,0.13],[1380,0.1,0.02,0.2],[1390,0.0,-0.08,0.08],[1400,0.05,-0.03,0.13],[1420,-0.05,-0.13,0.03],[1440,0.0,-0.08,0.08],[1460,0.05,-0.03,0.13],[1480,0.08,0.0,0.16],[1500,0.05,-0.03,0.13],[1520,0.02,-0.06,0.1],[1540,0.05,-0.03,0.13],[1560,0.0,-0.08,0.08],[1580,-0.05,-0.13,0.03],[1600,-0.03,-0.11,0.05],[1620,0.0,-0.08,0.08],[1640,0.03,-0.05,0.11],[1660,0.0,-0.08,0.08],[1680,-0.02,-0.1,0.06],[1700,0.0,-0.08,0.08],[1720,0.02,-0.06,0.1],[1740,0.03,-0.05,0.11],[1760,0.05,-0.03,0.13],[1780,0.08,0.0,0.16],[1800,0.06,-0.02,0.14],[1820,0.04,-0.04,0.12],[1840,0.02,-0.06,0.1],[1860,0.0,-0.08,0.08],[1880,-0.1,-0.2,0.0],[1890,-0.35,-0.5,-0.2],[1895,0.1,0.0,0.2],[1900,0.3,0.2,0.45],[1910,0.1,0.0,0.2],[1920,0.2,0.1,0.3],[1940,-0.05,-0.15,0.05],[1960,0.15,0.05,0.25],[1980,-0.1,-0.2,0.0],[2000,0.05,-0.05,0.15],[2020,0.1,0.0,0.2],[2040,-0.05,-0.15,0.05],[2060,0.2,0.1,0.3],[2080,0.0,-0.1,0.1],[2100,0.15,0.05,0.25],[2120,0.05,-0.05,0.15],[2140,-0.1,-0.2,0.0],[2160,0.1,0.0,0.2],[2180,0.05,-0.05,0.15],[2200,-0.15,-0.25,-0.05],[2220,0.1,0.0,0.2],[2240,0.0,-0.1,0.1],[2260,0.25,0.15,0.55],[2280,0.0,-0.1,0.1],[2300,-0.1,-0.2,0.0],[2320,0.15,0.05,0.3],[2340,-0.1,-0.25,0.0],[2360,0.05,-0.05,0.5],[2380,0.2,0.1,0.35],[2390,-0.05,-0.7,0.05],[2400,0.1,0.0,0.2]];
const M_vip=[[960,1.03,0.97,1.09],[970,0.99,0.93,1.05],[980,0.81,0.75,0.87],[1000,0.76,0.7,0.82],[1040,0.74,0.68,0.8],[1080,0.76,0.7,0.82],[1100,0.76,0.7,0.82],[1120,0.81,0.75,0.87],[1140,0.9,0.84,0.96],[1150,0.85,0.79,0.91],[1160,0.78,0.72,0.84],[1180,0.74,0.68,0.8],[1200,0.72,0.66,0.78],[1240,0.67,0.61,0.73],[1280,0.69,0.63,0.75],[1300,0.76,0.7,0.82],[1320,0.94,0.88,1.0],[1340,1.12,1.06,1.18],[1360,1.26,1.2,1.32],[1380,1.53,1.45,1.6],[1390,1.3,1.22,1.38],[1400,0.94,0.88,1.0],[1410,0.9,0.84,0.96],[1420,1.03,0.97,1.09],[1440,1.3,1.24,1.36],[1460,1.39,1.33,1.45],[1480,1.35,1.29,1.41],[1500,1.21,1.15,1.27],[1520,1.03,0.97,1.09],[1540,0.9,0.84,0.96],[1560,0.83,0.76,0.9],[1600,0.81,0.74,0.88],[1700,0.81,0.74,0.88],[1800,0.81,0.74,0.88],[1840,0.85,0.78,0.92],[1860,0.9,0.83,0.97],[1880,0.94,0.87,1.01],[1890,1.12,1.0,1.25],[1900,1.93,1.75,2.1],[1910,1.48,1.35,1.6],[1920,1.39,1.3,1.48],[1940,1.43,1.35,1.51],[1960,1.48,1.4,1.56],[1980,1.57,1.49,1.65],[2000,1.62,1.54,1.7],[2020,1.6,1.52,1.68],[2040,1.48,1.4,1.56],[2060,1.3,1.22,1.38],[2080,1.03,0.96,1.1],[2100,0.81,0.75,0.87],[2120,0.76,0.7,0.82],[2140,0.78,0.72,0.84],[2160,0.85,0.79,0.91],[2180,0.9,0.84,0.96],[2200,1.03,0.97,1.09],[2220,1.12,1.06,1.18],[2240,1.3,1.22,1.38],[2260,1.21,1.13,1.29],[2280,1.03,0.96,1.1],[2300,0.94,0.88,1.0],[2320,1.12,1.05,1.19],[2340,0.99,0.92,1.06],[2360,0.94,0.87,1.01],[2380,1.3,1.2,1.4],[2390,1.48,1.38,1.58],[2400,1.53,1.43,1.63]];
const N_coef=[[1400,0,-4,5],[1410,-5,-9,-1],[1420,-8,-12,-4],[1430,-5,-9,-1],[1440,-2,-6,2],[1460,0,-4,4],[1480,2,-2,6],[1500,1,-3,5],[1520,-2,-6,2],[1540,-5,-9,-1],[1560,-3,-7,1],[1580,0,-4,4],[1600,3,-1,7],[1620,1,-3,5],[1640,-1,-5,3],[1660,0,-4,4],[1680,5,1,9],[1700,6,2,10],[1720,3,-1,7],[1740,1,-3,5],[1760,0,-4,4],[1780,-2,-6,2],[1800,1,-3,5],[1820,-3,-7,1],[1840,-4,-8,0],[1850,0,-4,4],[1860,-2,-6,2],[1870,5,1,9],[1880,2,-2,6],[1890,-15,-28,-8],[1895,10,5,15],[1900,12,6,18],[1910,4,0,8],[1920,8,3,13],[1940,0,-4,4],[1960,-2,-6,2],[1980,2,-2,6],[2000,-3,-7,1],[2020,0,-4,4],[2040,-5,-9,-1],[2060,3,-1,7],[2080,8,4,12],[2100,10,6,14],[2120,9,5,13],[2140,7,3,11],[2160,0,-4,4],[2180,-5,-9,-1],[2200,-10,-14,-6],[2220,-5,-9,-1],[2240,5,1,9],[2250,15,10,22],[2260,28,20,36],[2270,15,10,22],[2280,5,0,10],[2300,-5,-10,0],[2320,5,0,14],[2340,-2,-8,4],[2350,8,2,14],[2360,-5,-10,0],[2380,5,0,10],[2390,-10,-16,-4],[2400,8,2,14]];
const N_vip=[[1400,1.05,0.98,1.12],[1410,0.89,0.82,0.96],[1420,0.79,0.72,0.86],[1430,0.75,0.68,0.82],[1440,0.79,0.72,0.9],[1460,0.93,0.85,1.05],[1480,1.05,0.95,1.15],[1500,1.14,1.02,1.2],[1520,1.16,1.05,1.2],[1540,1.14,1.02,1.18],[1560,1.1,0.98,1.16],[1580,1.05,0.92,1.12],[1600,1.01,0.88,1.1],[1620,0.97,0.83,1.08],[1640,0.93,0.8,1.07],[1660,0.89,0.76,1.06],[1680,0.85,0.74,1.05],[1700,0.85,0.73,1.02],[1720,0.83,0.72,0.98],[1740,0.79,0.7,0.92],[1760,0.81,0.72,0.92],[1780,0.85,0.76,0.94],[1800,0.89,0.81,0.98],[1820,0.99,0.9,1.08],[1840,1.14,1.05,1.22],[1850,1.1,1.02,1.18],[1860,1.05,0.98,1.12],[1880,1.14,1.05,1.22],[1890,1.3,1.2,1.4],[1900,1.71,1.6,1.85],[1910,1.4,1.3,1.5],[1920,1.3,1.2,1.4],[1940,1.26,1.16,1.36],[1960,1.22,1.12,1.32],[1980,1.18,1.08,1.28],[2000,1.14,1.04,1.24],[2020,1.1,1.0,1.2],[2040,1.01,0.92,1.1],[2060,0.89,0.8,0.98],[2080,0.79,0.7,0.88],[2100,0.75,0.66,0.84],[2120,0.79,0.7,0.88],[2140,0.85,0.76,0.94],[2160,0.89,0.8,0.98],[2180,0.97,0.88,1.06],[2200,1.05,0.96,1.14],[2220,1.14,1.05,1.23],[2240,1.2,1.1,1.3],[2260,1.14,1.05,1.23],[2280,0.99,0.9,1.08],[2300,0.89,0.8,0.98],[2320,0.85,0.76,0.94],[2340,0.89,0.8,0.98],[2360,0.93,0.84,1.02],[2380,1.05,0.96,1.14],[2400,1.2,1.1,1.3]];
const O_coef=[[1400,0,-150,300],[1404,250,100,400],[1408,-100,-300,50],[1412,150,0,300],[1415,-250,-400,-100],[1418,100,-50,250],[1422,-150,-580,0],[1425,200,50,350],[1428,-100,-250,50],[1432,300,150,450],[1435,-50,-200,100],[1438,100,-50,250],[1442,-200,-350,-50],[1445,150,0,300],[1448,0,-150,150],[1452,200,50,350],[1455,-150,-300,0],[1458,100,-50,250],[1462,-200,-350,-50],[1465,50,-100,200],[1468,150,0,300],[1472,-100,-250,50],[1475,250,100,550],[1478,-150,-300,0],[1482,100,-50,250],[1485,0,-150,150],[1488,200,50,350],[1492,-200,-350,-50],[1495,100,-50,250],[1498,0,-150,150],[1502,250,100,400],[1505,-100,-250,50],[1508,150,0,300],[1512,-250,-400,-100],[1515,50,-100,200],[1518,200,50,450],[1522,-150,-300,0],[1525,100,-50,250],[1528,-100,-250,50],[1532,150,0,300],[1535,0,-150,150],[1538,-200,-350,-50],[1542,100,-50,250],[1545,-50,-200,100],[1548,150,0,300],[1552,-150,-300,0],[1555,250,100,500],[1558,-100,-250,50],[1562,100,-50,250],[1565,-150,-300,0],[1568,50,-100,200],[1572,150,0,300],[1575,-100,-250,50],[1578,200,50,450],[1582,-150,-300,0],[1585,100,-50,250],[1588,-50,-200,100],[1592,150,0,300],[1595,-200,-350,-50],[1598,50,-100,200],[1602,-100,-250,50],[1605,150,0,300],[1608,-150,-300,0],[1612,50,-100,200],[1615,200,50,350],[1618,-100,-250,50],[1622,100,-50,250],[1625,-200,-350,-50],[1628,0,-150,150],[1632,150,0,300],[1635,-100,-250,50],[1638,50,-100,200],[1642,-150,-300,0],[1645,100,-50,250],[1648,0,-150,150],[1652,150,0,300],[1655,-50,-200,100],[1658,100,-50,250],[1662,-100,-250,50],[1665,200,50,350],[1668,50,-100,200],[1672,300,150,450],[1675,-50,-200,100],[1678,150,0,300],[1682,-100,-250,50],[1685,100,-50,250],[1688,-150,-300,0],[1692,50,-100,200],[1695,-200,-350,-50],[1698,100,-50,250],[1702,-100,-250,50],[1705,0,-150,150],[1708,-250,-400,-100],[1712,150,0,300],[1715,300,150,550],[1718,100,-50,250],[1722,250,100,450],[1725,-50,-200,100],[1728,100,-50,250],[1732,-150,-300,0],[1735,50,-100,200],[1738,-100,-250,50],[1742,100,-50,250],[1745,-200,-350,-50],[1748,50,-100,200],[1752,150,0,300],[1755,-100,-250,50],[1758,100,-50,250],[1762,-50,-200,100],[1765,150,0,300],[1768,-100,-250,50],[1772,50,-100,200],[1775,150,0,300],[1778,-100,-250,50],[1782,100,-50,250],[1785,-150,-300,0],[1788,50,-100,200],[1792,200,50,350],[1795,-100,-250,50],[1798,150,0,450],[1800,50,-100,200]];
const O_vip=[[1400,2.3,2.2,2.45],[1403,1.3,1.2,1.4],[1408,1.1,1.0,1.2],[1415,1.0,0.9,1.1],[1420,0.95,0.85,1.05],[1430,0.9,0.8,1.0],[1440,1.0,0.9,1.1],[1450,0.85,0.75,0.95],[1460,0.9,0.8,1.0],[1470,0.95,0.85,1.05],[1480,0.85,0.75,0.95],[1490,0.8,0.7,0.9],[1500,0.75,0.65,0.85],[1510,0.72,0.62,0.82],[1520,0.8,0.7,0.9],[1530,0.75,0.65,0.85],[1540,0.78,0.68,0.88],[1550,0.75,0.65,0.85],[1555,0.95,0.85,1.1],[1560,0.8,0.7,0.9],[1570,0.72,0.62,0.82],[1580,0.78,0.68,0.88],[1590,0.8,0.7,0.9],[1600,0.75,0.65,0.85],[1605,0.65,0.55,0.75],[1610,0.78,0.68,0.88],[1620,0.82,0.72,0.92],[1630,0.8,0.7,0.9],[1640,0.85,0.75,0.95],[1650,0.82,0.72,0.92],[1660,0.88,0.78,0.98],[1670,0.95,0.85,1.05],[1675,1.1,1.0,1.2],[1680,0.9,0.8,1.0],[1690,0.85,0.75,0.95],[1700,0.8,0.7,0.9],[1710,0.85,0.75,0.95],[1715,1.15,1.05,1.25],[1720,1.0,0.9,1.1],[1730,0.85,0.75,0.95],[1740,0.8,0.7,0.9],[1750,0.85,0.75,0.95],[1760,0.9,0.8,1.0],[1770,0.85,0.75,0.95],[1780,0.9,0.8,1.0],[1790,1.0,0.9,1.1],[1795,1.2,1.1,1.35],[1800,2.1,1.95,2.25]];

// ---------- panel definitions ----------
const panels=[
 {id:'A',coef:A_coef,vip:A_vip,xr:[479,921],xt:xt500,yt:yt80,yd:0,vt:v03,vd:0,lab:['A','']},
 {id:'B',coef:B_coef,vip:B_vip,xr:[479,921],xt:xt500,yt:yt14,yd:0,vt:v22,vd:1,lab:['E','']},
 {id:'C',coef:C_coef,vip:C_vip,xr:[479,921],xt:xt500,yt:yt1,yd:1,vt:v22,vd:1,lab:['g','s']},
 {id:'D',coef:D_coef,vip:D_vip,xr:[479,921],xt:xt500,yt:yt80,yd:0,vt:v22,vd:1,lab:['C','i']},
 {id:'E',coef:E_coef,vip:E_vip,xr:[479,921],xt:xt500,yt:yt4,yd:0,vt:v22,vd:1,lab:['WUE','i']},
 {id:'F',coef:F_coef,vip:F_vip,xr:[479,921],xt:xt500,yt:yt100,yd:0,vt:v03,vd:0,lab:['WUE','in']},
 {id:'G',coef:G_coef,vip:G_vip,xr:[479,921],xt:xt500,yt:yt20,yd:0,vt:v26,vd:1,lab:['T','l']},
 {id:'H',coef:H_coef,vip:H_vip,xr:[586,910],xt:xtH,yt:yt20,yd:0,vt:v22,vd:1,lab:['Chl','SPAD']},
 {id:'I',coef:I_coef,vip:I_vip,xr:[250,2500],xt:xtI,yt:yt03,yd:2,vt:v03,vd:0,lab:['Ψ','w'],serif:true},
 {id:'J',coef:J_coef,vip:J_vip,xr:[1347,2454],xt:xt1400,yt:yt016,yd:2,vt:v03,vd:0,lab:['Ψ','π'],serif:true},
 {id:'K',coef:K_coef,vip:K_vip,xr:[1347,2454],xt:xt1400,yt:yt01,yd:2,vt:v26,vd:1,lab:['Ψ','π100'],serif:true},
 {id:'L',coef:L_coef,vip:L_vip,xr:[870,2470],xt:xt1000,yt:yt06,yd:1,vt:v22,vd:1,lab:['RWC',''],dense:true},
 {id:'M',coef:M_coef,vip:M_vip,xr:[870,2470],xt:xt1000,yt:yt1,yd:1,vt:v22,vd:1,lab:['Suc',''],dense:true},
 {id:'N',coef:N_coef,vip:N_vip,xr:[1347,2454],xt:xt1400,yt:yt44,yd:0,vt:v22,vd:1,lab:['SLA','']},
 {id:'O',coef:O_coef,vip:O_vip,xr:[1379,1821],xt:xtO,yt:yt800,yd:0,vt:v03,vd:0,lab:['TSD','']}
];

// ---------- layout ----------
const colL=[49,280,511], colW=[176,174,176];
const rowT=[12,176,343,508,674], rowH=124;
const FONT='"Liberation Sans", Arial, sans-serif';

const grid=[],xAxis=[],yAxis=[],series=[],title=[];
panels.forEach((p,i)=>{
  const r=Math.floor(i/3), c=i%3;
  grid.push({left:colL[c],top:rowT[r],width:colW[c],height:rowH,show:true,borderColor:'#a0a0a0',borderWidth:1,backgroundColor:'transparent'});
  xAxis.push({type:'value',gridIndex:i,min:p.xr[0],max:p.xr[1],
    axisLine:{show:true,onZero:false,lineStyle:{color:'#111',width:1}},
    axisTick:{show:true,customValues:p.xt,length:4,lineStyle:{color:'#111'}},
    axisLabel:{customValues:p.xt,fontSize:p.dense?9:10,fontFamily:FONT,color:'#222',margin:6,
      showMinLabel:true,showMaxLabel:true,hideOverlap:false,interval:0,formatter:v=>String(v)},
    splitLine:{show:false},
    name:r===4?'Wavelengths (nm)':'',nameLocation:'middle',nameGap:27,
    nameTextStyle:{fontSize:13,fontFamily:FONT,color:'#222'}});
  const yd=p.yd, vd=p.vd;
  yAxis.push({type:'value',gridIndex:i,position:'left',min:p.yt[0],max:p.yt[p.yt.length-1],
    axisLine:{show:true,onZero:false,lineStyle:{color:'#111',width:1}},
    axisTick:{show:true,customValues:p.yt,length:4,lineStyle:{color:'#111'}},
    axisLabel:{customValues:p.yt,fontSize:10,fontFamily:FONT,color:'#222',margin:5,
      showMinLabel:true,showMaxLabel:true,formatter:v=>Number(v).toFixed(yd)},
    splitLine:{show:false},
    name:c===0?'Coefficients':'',nameLocation:'middle',nameGap:30,nameRotate:90,
    nameTextStyle:{fontSize:13,fontFamily:FONT,color:'#222'}});
  yAxis.push({type:'value',gridIndex:i,position:'right',min:p.vt[0],max:p.vt[p.vt.length-1],
    axisLine:{show:true,onZero:false,lineStyle:{color:'#8a8a8a',width:1.3}},
    axisTick:{show:true,customValues:p.vt,length:4,lineStyle:{color:'#8a8a8a'}},
    axisLabel:{customValues:p.vt,fontSize:10,fontFamily:FONT,color:'#333',margin:5,
      showMinLabel:true,showMaxLabel:true,formatter:v=>Number(v).toFixed(vd)},
    splitLine:{show:false},
    name:c===2?'VIP':'',nameLocation:'middle',nameGap:27,nameRotate:90,
    nameTextStyle:{fontSize:14,fontFamily:FONT,color:'#999'}});
  const yi=2*i, vi=2*i+1;
  const base={type:'line',xAxisIndex:i,showSymbol:false,symbol:'none',silent:true,animation:false,clip:true};
  series.push(Object.assign({},base,{yAxisIndex:yi,data:p.coef.map(d=>[d[0],d[2]]),lineStyle:{color:'#555',width:0.8,type:'dotted'}}));
  series.push(Object.assign({},base,{yAxisIndex:yi,data:p.coef.map(d=>[d[0],d[3]]),lineStyle:{color:'#555',width:0.8,type:'dotted'}}));
  series.push(Object.assign({},base,{yAxisIndex:yi,data:p.coef.map(d=>[d[0],d[1]]),lineStyle:{color:'#000',width:1.1},
    markLine:{silent:true,symbol:'none',label:{show:false},animation:false,lineStyle:{color:'#8c8c8c',type:[7,4],width:1.3},data:[{yAxis:0}]}}));
  series.push(Object.assign({},base,{yAxisIndex:vi,data:p.vip.map(d=>[d[0],d[2]]),lineStyle:{color:'#4b4bff',width:0.8,type:'dotted'}}));
  series.push(Object.assign({},base,{yAxisIndex:vi,data:p.vip.map(d=>[d[0],d[3]]),lineStyle:{color:'#4b4bff',width:0.8,type:'dotted'}}));
  series.push(Object.assign({},base,{yAxisIndex:vi,data:p.vip.map(d=>[d[0],d[1]]),lineStyle:{color:'#1414e6',width:1.2},
    markLine:{silent:true,symbol:'none',label:{show:false},animation:false,lineStyle:{color:'#6b6be8',type:[9,5],width:1.3},data:[{yAxis:1}]}}));
  // panel letter
  title.push({text:p.id,left:colL[c]-(c===0?46:29),top:rowT[r]-11,padding:0,
    textStyle:{fontSize:15,fontWeight:'bold',fontFamily:FONT,color:'#000'}});
  // inset label
  const ff=p.serif?'"Liberation Serif", "DejaVu Serif", serif':FONT;
  const txt=p.lab[1]?'{m|'+p.lab[0]+'}{s|'+p.lab[1]+'}':'{m|'+p.lab[0]+'}';
  title.push({text:txt,right:729-(colL[c]+colW[c])+6,top:rowT[r]+4,padding:0,
    textStyle:{fontWeight:'normal',rich:{m:{fontSize:12,fontWeight:'normal',fontFamily:ff,color:'#111',lineHeight:14,verticalAlign:'bottom'},
                     s:{fontSize:8,fontWeight:'normal',fontFamily:FONT,color:'#111',lineHeight:6,verticalAlign:'bottom'}}}});
});

const chart=echarts.init(document.getElementById('c'),null,{renderer:'canvas'});
chart.setOption({animation:false,backgroundColor:'#fff',title,grid,xAxis,yAxis,series});
</script></body></html>
